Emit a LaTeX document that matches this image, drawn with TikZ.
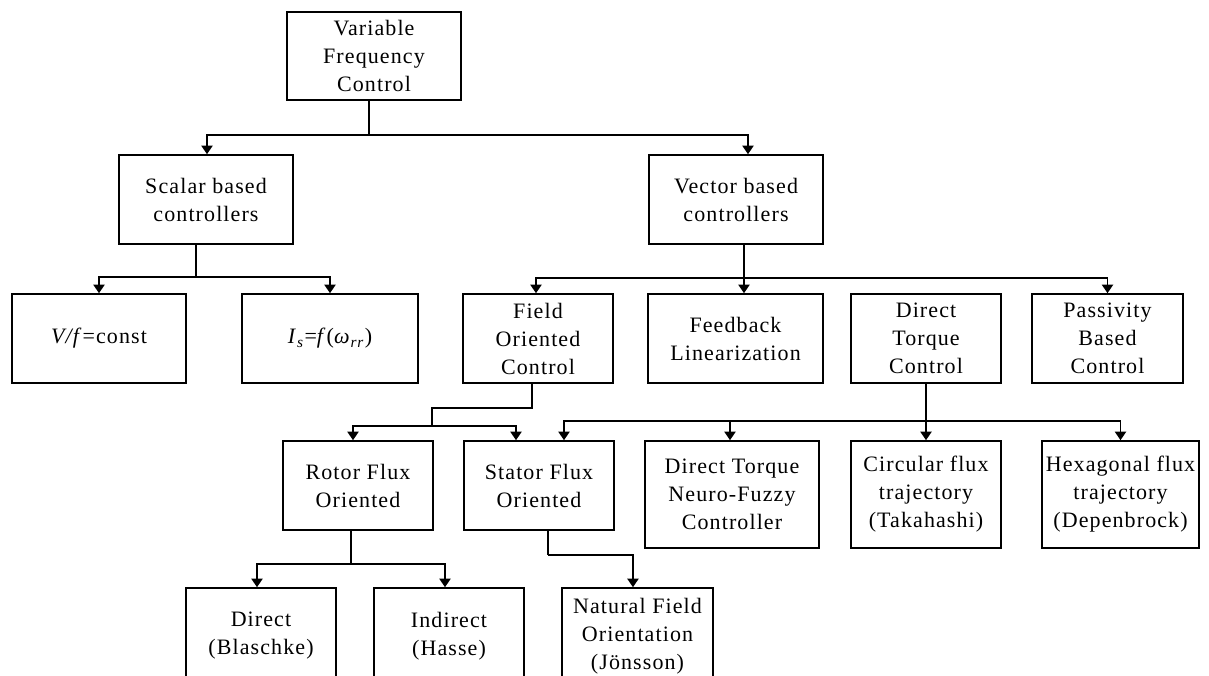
\documentclass[tikz,border=0pt]{standalone}
\usepackage{fontspec}
\setmainfont{Liberation Serif}[LetterSpace=5]
\usetikzlibrary{arrows.meta}
\newcommand\lbl{\fontsize{16.5pt}{21pt}\selectfont}
\tikzset{
  box/.style={draw, line width=1.2pt, align=center, inner sep=0pt, font=\lbl},
  sz/.style 2 args={minimum width=#1*0.75pt, minimum height=#2*0.75pt},
  conn/.style={line width=1.2pt},
  arr/.style={conn, -{Triangle[width=8.5pt,length=6.5pt]}}
}
\begin{document}
\begin{tikzpicture}[x=0.75pt,y=-0.75pt]
\useasboundingbox (0,0) rectangle (1209,675);
\clip (0,0) rectangle (1209,675);

% level 0
\node[box, sz={174}{88}] (vfc) at (374,56) {Variable\\Frequency\\Control};
% level 1
\node[box, sz={174}{89}] (sca) at (206,199.5) {Scalar based\\controllers};
\node[box, sz={174}{89}] (vec) at (736,199.5) {Vector based\\controllers};
% level 2
\node[box, sz={174}{89}] (vf)  at (99,338.5)  {\textit{V/f}=const};
\node[box, sz={176}{89}] (isf) at (330,338.5) {\textit{I}\textsubscript{\textit{s}}=\textit{f}(\textit{ω}\textsubscript{\textit{rr}})};
\node[box, sz={150}{89}] (foc) at (538,338.5) {Field\\Oriented\\Control};
\node[box, sz={175}{89}] (fbl) at (735.5,338.5) {Feedback\\Linearization};
\node[box, sz={150}{89}] (dtc) at (926,338.5) {Direct\\Torque\\Control};
\node[box, sz={151}{89}] (pbc) at (1107.5,338.5) {Passivity\\Based\\Control};
% level 3
\node[box, sz={150}{89}]  (rfo)  at (358,485.5) {Rotor Flux\\Oriented};
\node[box, sz={150}{89}]  (sfo)  at (539,485.5) {Stator Flux\\Oriented};
\node[box, sz={174}{107}] (dtnf) at (732,494.5) {Direct Torque\\Neuro-Fuzzy\\Controller};
\node[box, sz={150}{107}] (cft)  at (926,494.5) {Circular flux\\trajectory\\(Takahashi)};
\node[box, sz={157}{107}] (hft)  at (1120.5,494.5) {Hexagonal flux\\trajectory\\(Depenbrock)};
% level 4
\node[box, sz={150}{96}] (dir) at (261,636)   {Direct\\(Blaschke)};
\node[box, sz={150}{96}] (ind) at (449,636)   {Indirect\\(Hasse)};
\node[box, sz={151}{96}] (nfo) at (637.5,636) {Natural Field\\Orientation\\(Jönsson)};

% junction points
\coordinate (j0) at (369,135);
\coordinate (j1) at (196,277);
\coordinate (j2) at (744,278);
\coordinate (j3a) at (532,408);
\coordinate (j3b) at (432,408);
\coordinate (j3c) at (432,426);
\coordinate (j4) at (926,421);
\coordinate (j5) at (351,564);
\coordinate (j6) at (548,555);

% Variable Frequency Control -> scalar / vector
\draw[conn] (vfc.south -| j0) -- (j0);
\draw[arr] (j0) -| ([xshift=0.75pt]sca.north);
\draw[arr] (j0) -| ([xshift=9pt]vec.north);

% scalar -> V/f, Is
\draw[conn] (sca.south -| j1) -- (j1);
\draw[arr] (j1) -| (vf.north);
\draw[arr] (j1) -| (isf.north);

% vector -> FOC, FL, PBC
\draw[arr] (vec.south -| j2) -- (fbl.north -| j2);
\draw[arr] (j2) -| ([xshift=-1.5pt]foc.north);
\draw[arr] (j2) -| (pbc.north);

% FOC -> rotor / stator
\draw[conn] (foc.south -| j3a) -- (j3a) -- (j3b) -- (j3c);
\draw[arr] (j3c) -| ([xshift=-3.75pt]rfo.north);
\draw[arr] (j3c) -| ([xshift=-17.25pt]sfo.north);

% DTC -> stator, DTNF, circular, hexagonal
\draw[arr] (dtc.south) -- (cft.north);
\draw[arr] (j4) -| ([xshift=18.75pt]sfo.north);
\draw[arr] (j4) -| ([xshift=-1.5pt]dtnf.north);
\draw[arr] (j4) -| (hft.north);

% rotor -> direct / indirect
\draw[conn] (rfo.south -| j5) -- (j5);
\draw[arr] (j5) -| ([xshift=-3pt]dir.north);
\draw[arr] (j5) -| ([xshift=-3pt]ind.north);

% stator -> natural field orientation
\draw[conn] (sfo.south -| j6) -- (j6);
\draw[arr] (j6) -| ([xshift=-3.4pt]nfo.north);
\end{tikzpicture}
\end{document}
